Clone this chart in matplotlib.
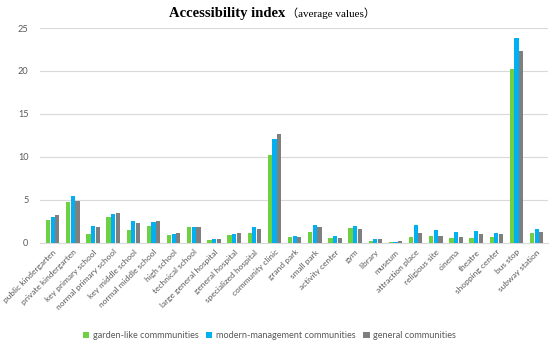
import matplotlib
matplotlib.use("Agg")
import matplotlib.pyplot as plt
import numpy as np

categories = ["public kindergarten", "private kindergarten", "key primary school",
              "normal primary school", "key middle school", "normal middle school",
              "high school", "technical school", "large general hospital",
              "general hospital", "specialized hospital", "community clinic",
              "grand park", "small park", "activity center", "gym", "library",
              "museum", "attraction place", "religious site", "cinema", "theatre",
              "shopping center", "bus stop", "subway station"]
garden = [2.7, 4.8, 1.0, 3.0, 1.5, 2.0, 0.9, 1.8, 0.35, 0.9, 1.2, 10.2,
          0.65, 1.3, 0.6, 1.7, 0.27, 0.15, 0.7, 0.75, 0.55, 0.6, 0.7, 20.2, 1.15]
modern = [3.0, 5.5, 2.0, 3.4, 2.5, 2.4, 1.0, 1.8, 0.5, 1.0, 1.9, 12.1,
          0.75, 2.1, 0.85, 2.0, 0.4, 0.1, 2.1, 1.45, 1.3, 1.35, 1.1, 23.8, 1.6]
general = [3.3, 4.9, 1.8, 3.5, 2.3, 2.5, 1.2, 1.9, 0.45, 1.1, 1.6, 12.7,
           0.7, 1.8, 0.6, 1.6, 0.4, 0.2, 1.1, 0.85, 0.7, 1.0, 1.0, 22.35, 1.3]
series_names = ["garden-like commmunities", "modern-management communities", "general communities"]
colors = ["#6ED142", "#00B0F0", "#7F7F7F"]
yticks = [0, 5, 10, 15, 20, 25]

plt.rcParams["font.family"] = ["Lato", "DejaVu Sans"]

fig = plt.figure(figsize=(5.5, 3.46), dpi=100)
ax = fig.add_axes([0.072, 0.298, 0.924, 0.621])
x = np.arange(len(categories))
w = 0.21
for i, (vals, name, c) in enumerate(zip([garden, modern, general], series_names, colors)):
    ax.bar(x + (i - 1) * (w + 0.02), vals, width=w, color=c, label=name, zorder=3)

ax.set_xlim(-0.65, len(categories) - 0.45)
ax.set_ylim(0, 25)
ax.set_yticks(yticks)
ax.set_xticks(x)
ax.set_xticklabels(categories, rotation=45, ha="right", rotation_mode="anchor",
                   fontsize=6.0, color="#595959")
ax.tick_params(axis="y", labelsize=6.6, labelcolor="#595959", length=0, pad=8)
ax.tick_params(axis="x", length=0, pad=4)
ax.grid(axis="y", color="#D9D9D9", linewidth=0.8, zorder=0)
for s in ["top", "right", "left"]:
    ax.spines[s].set_visible(False)
ax.spines["bottom"].set_color("#D9D9D9")

fig.text(0.519, 0.962, "Accessibility index", ha="right", va="center",
         fontsize=10.5, fontweight="bold", family=["Liberation Serif", "Noto Sans CJK SC"])
fig.text(0.521, 0.962, "（average values）", ha="left", va="center",
         fontsize=8, family=["Liberation Serif", "Noto Sans CJK SC"])

fig.legend(loc="center", bbox_to_anchor=(0.49, 0.03), ncol=3, frameon=False,
           fontsize=6.6, handlelength=0.7, handleheight=0.7, handletextpad=0.4,
           columnspacing=0.8, labelcolor="#595959")

fig.savefig("out.png", dpi=100)
